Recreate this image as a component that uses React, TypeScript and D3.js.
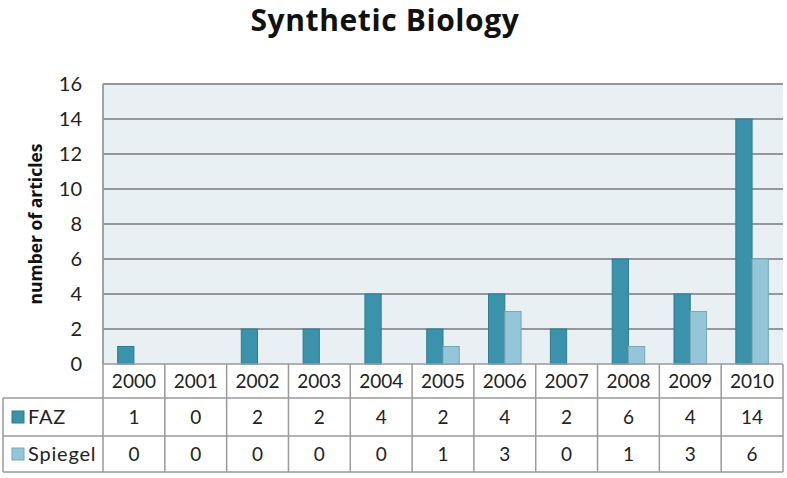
import { useEffect, useRef } from "react";
import * as d3 from "d3";

const years = ["2000", "2001", "2002", "2003", "2004", "2005", "2006", "2007", "2008", "2009", "2010"];
const seriesNames = ["FAZ", "Spiegel"];
const fazValues = [1, 0, 2, 2, 4, 2, 4, 2, 6, 4, 14];
const spiegelValues = [0, 0, 0, 0, 0, 1, 3, 0, 1, 3, 6];
const yTicks = [0, 2, 4, 6, 8, 10, 12, 14, 16];

const WIDTH = 787;
const HEIGHT = 478;
const PLOT = { left: 103, right: 783, top: 84, bottom: 364 };
const TABLE_ROWS = [364, 398, 436, 472];
const TABLE_LEFT = 3;
const COLORS = ["#3b93ab", "#93c6d8"];
const FONT = "Lato, 'Open Sans', sans-serif";
const TITLE_FONT = "'Open Sans', sans-serif";

const App = () => {
  const ref = useRef<SVGSVGElement | null>(null);

  useEffect(() => {
    const svg = d3.select(ref.current);
    svg.selectAll("*").remove();

    const x = d3.scaleBand().domain(years).range([PLOT.left, PLOT.right]).paddingInner(0).paddingOuter(0);
    const xSub = d3.scaleBand().domain(seriesNames).range([0, x.bandwidth()]).paddingInner(0).paddingOuter(0.9);
    const y = d3.scaleLinear().domain([0, 16]).range([PLOT.bottom, PLOT.top]);

    // title
    svg.append("text")
      .attr("x", 385).attr("y", 31)
      .attr("text-anchor", "middle")
      .attr("font-family", TITLE_FONT).attr("font-weight", "bold").attr("font-size", 30)
      .attr("letter-spacing", 0.6)
      .attr("fill", "#111")
      .text("Synthetic Biology");

    // plot background
    svg.append("rect")
      .attr("x", PLOT.left).attr("y", PLOT.top)
      .attr("width", PLOT.right - PLOT.left).attr("height", PLOT.bottom - PLOT.top)
      .attr("fill", "#e9f0f4");

    // gridlines
    svg.append("g").selectAll("line")
      .data(yTicks.filter(d => d > 0))
      .join("line")
      .attr("x1", PLOT.left).attr("x2", PLOT.right)
      .attr("y1", d => y(d)).attr("y2", d => y(d))
      .attr("stroke", "#94989c").attr("stroke-width", 1.8);

    svg.append("line")
      .attr("x1", PLOT.left).attr("x2", PLOT.left)
      .attr("y1", PLOT.top).attr("y2", PLOT.bottom)
      .attr("stroke", "#94989c").attr("stroke-width", 1.8);

    // y tick labels
    svg.append("g").selectAll("text")
      .data(yTicks)
      .join("text")
      .attr("x", 82).attr("y", d => y(d) + 7)
      .attr("text-anchor", "end")
      .attr("font-family", FONT).attr("font-size", 20).attr("fill", "#222")
      .text(d => d);

    // y axis title
    svg.append("text")
      .attr("transform", `translate(42,${(PLOT.top + PLOT.bottom) / 2}) rotate(-90)`)
      .attr("text-anchor", "middle")
      .attr("font-family", TITLE_FONT).attr("font-weight", "bold").attr("font-size", 17.5).attr("fill", "#111")
      .text("number of articles");

    // bars
    const series = [fazValues, spiegelValues];
    series.forEach((vals, si) => {
      svg.append("g").selectAll("rect")
        .data(vals)
        .join("rect")
        .attr("x", (_, i) => (x(years[i]) ?? 0) + (xSub(seriesNames[si]) ?? 0))
        .attr("y", d => y(d))
        .attr("width", xSub.bandwidth())
        .attr("height", d => y(0) - y(d))
        .attr("fill", COLORS[si])
        .attr("stroke", d3.color(COLORS[si])!.darker(0.5).formatHex())
        .attr("stroke-width", d => (d > 0 ? 1 : 0));
    });

    // data table
    const table = svg.append("g");
    const lineColor = "#9a9a9a";
    table.append("line")
      .attr("x1", PLOT.left).attr("x2", PLOT.right)
      .attr("y1", TABLE_ROWS[0]).attr("y2", TABLE_ROWS[0])
      .attr("stroke", lineColor).attr("stroke-width", 1.5);
    [1, 2, 3].forEach(r => {
      table.append("line")
        .attr("x1", TABLE_LEFT).attr("x2", PLOT.right)
        .attr("y1", TABLE_ROWS[r]).attr("y2", TABLE_ROWS[r])
        .attr("stroke", lineColor).attr("stroke-width", 1.5);
    });
    table.append("line")
      .attr("x1", TABLE_LEFT).attr("x2", TABLE_LEFT)
      .attr("y1", TABLE_ROWS[1]).attr("y2", TABLE_ROWS[3])
      .attr("stroke", lineColor).attr("stroke-width", 1.5);
    const bounds = years.map(yr => x(yr) ?? 0).concat([PLOT.right]);
    table.append("g").selectAll("line")
      .data(bounds)
      .join("line")
      .attr("x1", d => d).attr("x2", d => d)
      .attr("y1", TABLE_ROWS[0]).attr("y2", TABLE_ROWS[3])
      .attr("stroke", lineColor).attr("stroke-width", 1.5);

    table.append("g").selectAll("text")
      .data(years)
      .join("text")
      .attr("x", d => (x(d) ?? 0) + x.bandwidth() / 2)
      .attr("y", (TABLE_ROWS[0] + TABLE_ROWS[1]) / 2 + 7)
      .attr("text-anchor", "middle")
      .attr("font-family", FONT).attr("font-size", 19).attr("fill", "#222")
      .text(d => d);

    series.forEach((vals, si) => {
      const cy = (TABLE_ROWS[si + 1] + TABLE_ROWS[si + 2]) / 2;
      table.append("g").selectAll("text")
        .data(vals)
        .join("text")
        .attr("x", (_, i) => (x(years[i]) ?? 0) + x.bandwidth() / 2)
        .attr("y", cy + 7)
        .attr("text-anchor", "middle")
        .attr("font-family", FONT).attr("font-size", 19).attr("fill", "#222")
        .text(d => d);
      table.append("rect")
        .attr("x", 12).attr("y", cy - 6)
        .attr("width", 12).attr("height", 12)
        .attr("fill", COLORS[si])
        .attr("stroke", d3.color(COLORS[si])!.darker(0.5).formatHex());
      table.append("text")
        .attr("x", 28).attr("y", cy + 7)
        .attr("font-family", FONT).attr("font-size", 20).attr("letter-spacing", 0.8).attr("fill", "#222")
        .text(seriesNames[si]);
    });
  }, []);

  return (
    <svg ref={ref} width={WIDTH} height={HEIGHT} style={{ position: "absolute", left: 0, top: 0, background: "#fff" }} />
  );
};

export default App;
